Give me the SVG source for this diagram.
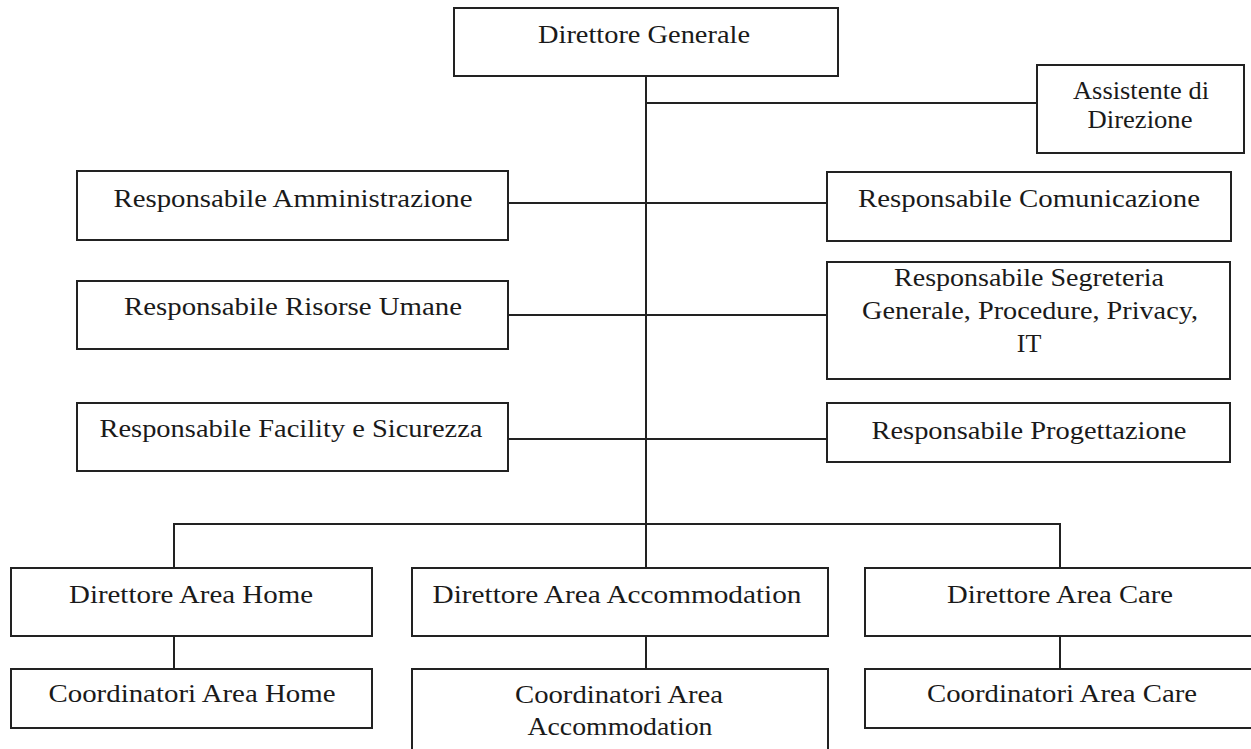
<svg xmlns="http://www.w3.org/2000/svg" width="1251" height="749" viewBox="0 0 1251 749">
<style>
rect.box{fill:#fff;stroke:#222;stroke-width:2}
.conn line{stroke:#222;stroke-width:2}
text{font-family:"Liberation Serif","Times New Roman",serif;font-size:26px;fill:#1a1a1a;text-anchor:middle}
</style>
<rect x="0" y="0" width="1251" height="749" fill="#fff"/>
<g class="conn" id="connectors">
<line x1="646" y1="76" x2="646" y2="568"/>
<line x1="646" y1="103" x2="1037" y2="103"/>
<line x1="508" y1="203" x2="827" y2="203"/>
<line x1="508" y1="315" x2="827" y2="315"/>
<line x1="508" y1="439" x2="827" y2="439"/>
<line x1="173" y1="524" x2="1061" y2="524"/>
<line x1="174" y1="524" x2="174" y2="568"/>
<line x1="1060" y1="524" x2="1060" y2="568"/>
<line x1="174" y1="636" x2="174" y2="669"/>
<line x1="646" y1="636" x2="646" y2="669"/>
<line x1="1060" y1="636" x2="1060" y2="669"/>
</g>
<g id="direttore-generale"><rect class="box" x="454" y="8" width="384" height="68"/><text x="644" y="43" textLength="212" lengthAdjust="spacingAndGlyphs">Direttore Generale</text></g>
<g id="assistente"><rect class="box" x="1037" y="65" width="207" height="88"/><text x="1141" y="99" textLength="136" lengthAdjust="spacingAndGlyphs">Assistente di</text><text x="1140" y="128" textLength="105" lengthAdjust="spacingAndGlyphs">Direzione</text></g>
<g id="amministrazione"><rect class="box" x="77" y="171" width="431" height="69"/><text x="293" y="207" textLength="359" lengthAdjust="spacingAndGlyphs">Responsabile Amministrazione</text></g>
<g id="comunicazione"><rect class="box" x="827" y="172" width="404" height="69"/><text x="1029" y="207" textLength="342" lengthAdjust="spacingAndGlyphs">Responsabile Comunicazione</text></g>
<g id="risorse-umane"><rect class="box" x="77" y="281" width="431" height="68"/><text x="293" y="315" textLength="338" lengthAdjust="spacingAndGlyphs">Responsabile Risorse Umane</text></g>
<g id="segreteria"><rect class="box" x="827" y="262" width="403" height="117"/><text x="1029" y="286" textLength="270" lengthAdjust="spacingAndGlyphs">Responsabile Segreteria</text><text x="1030" y="319" textLength="336" lengthAdjust="spacingAndGlyphs">Generale, Procedure, Privacy,</text><text x="1029" y="352">IT</text></g>
<g id="facility"><rect class="box" x="77" y="403" width="431" height="68"/><text x="291" y="437" textLength="383" lengthAdjust="spacingAndGlyphs">Responsabile Facility e Sicurezza</text></g>
<g id="progettazione"><rect class="box" x="827" y="403" width="403" height="59"/><text x="1029" y="439" textLength="315" lengthAdjust="spacingAndGlyphs">Responsabile Progettazione</text></g>
<g id="dir-home"><rect class="box" x="11" y="568" width="361" height="68"/><text x="191" y="603" textLength="244" lengthAdjust="spacingAndGlyphs">Direttore Area Home</text></g>
<g id="coord-home"><rect class="box" x="11" y="669" width="361" height="59"/><text x="192" y="702" textLength="287" lengthAdjust="spacingAndGlyphs">Coordinatori Area Home</text></g>
<g id="dir-accommodation"><rect class="box" x="412" y="568" width="416" height="68"/><text x="617" y="603" textLength="369" lengthAdjust="spacingAndGlyphs">Direttore Area Accommodation</text></g>
<g id="coord-accommodation"><rect class="box" x="412" y="669" width="416" height="90"/><text x="619" y="703" textLength="208" lengthAdjust="spacingAndGlyphs">Coordinatori Area</text><text x="620" y="735" textLength="185" lengthAdjust="spacingAndGlyphs">Accommodation</text></g>
<g id="dir-care"><rect class="box" x="865" y="568" width="400" height="68"/><text x="1060" y="603" textLength="226" lengthAdjust="spacingAndGlyphs">Direttore Area Care</text></g>
<g id="coord-care"><rect class="box" x="865" y="669" width="400" height="59"/><text x="1062" y="702" textLength="270" lengthAdjust="spacingAndGlyphs">Coordinatori Area Care</text></g>
</svg>
